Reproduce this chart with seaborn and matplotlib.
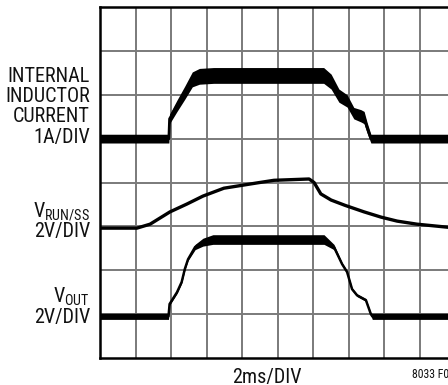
import numpy as np
import pandas as pd
import matplotlib
matplotlib.use("Agg")
import matplotlib.pyplot as plt
import seaborn as sns

# traces, in scope divisions (x: 0-10 time div, y: 0-8 vertical div)
cur_x = [0, 1.94, 1.96, 2.17, 2.39, 2.6, 2.8, 3.2, 6.3, 6.51, 6.73, 6.96, 7.15, 7.35, 7.44, 7.52, 7.63, 9.8]
cur_y = [5.0, 5.0, 5.45, 5.75, 6.05, 6.35, 6.42, 6.44, 6.44, 6.3, 5.98, 5.86, 5.58, 5.52, 5.48, 5.26, 5.0, 5.0]
cur_half = [0.1, 0.1, 0.11, 0.13, 0.15, 0.17, 0.18, 0.18, 0.18, 0.17, 0.15, 0.14, 0.13, 0.14, 0.14, 0.12, 0.1, 0.1]

run_x = [0, 1.04, 1.41, 1.97, 2.45, 2.9, 3.49, 4.42, 4.9, 5.89, 6.03, 6.22, 6.51, 6.9, 7.44, 7.92, 8.37, 8.93, 9.8]
run_y = [2.96, 2.96, 3.05, 3.33, 3.51, 3.69, 3.87, 3.99, 4.05, 4.08, 4.0, 3.74, 3.6, 3.48, 3.33, 3.21, 3.12, 3.05, 2.98]

out_x = [0, 1.93, 1.96, 2.17, 2.3, 2.39, 2.48, 2.68, 2.9, 3.18, 6.31, 6.59, 6.82, 6.96, 7.1, 7.24, 7.49, 7.63, 7.67, 9.8]
out_y = [0.95, 0.95, 1.23, 1.5, 1.73, 2.03, 2.25, 2.53, 2.64, 2.7, 2.7, 2.53, 2.14, 1.96, 1.57, 1.43, 1.32, 1.0, 0.95, 0.95]
out_half = [0.07, 0.07, 0.03, 0.03, 0.03, 0.03, 0.03, 0.06, 0.09, 0.11, 0.11, 0.06, 0.03, 0.03, 0.03, 0.03, 0.03, 0.03, 0.07, 0.07]

labels = [
    (["INTERNAL", "INDUCTOR", "CURRENT", "1A/DIV"], [77, 97, 117, 138]),
    ([r"V$_{\mathregular{RUN/SS}}$", "2V/DIV"], [212, 231]),
    ([r"V$_{\mathregular{OUT}}$", "2V/DIV"], [297, 317]),
]
xlabel = "2ms/DIV"
fig_id = "8033 F05"

sns.set_style("white")
plt.rcParams["font.family"] = ["Roboto Condensed", "Archivo Narrow", "DejaVu Sans"]

W, H = 448, 385
fig = plt.figure(figsize=(W / 100, H / 100), dpi=100)
ax = fig.add_axes([100 / W, 27 / H, (W - 100) / W, 351 / H])

xmax = (W - 100) / 35.5
ax.set_xlim(0, xmax)
ax.set_ylim(0, 8)
ax.set_xticks(range(1, 10))
ax.set_yticks(range(1, 8))
ax.grid(True, color="#7a7a7a", lw=1.4)
ax.tick_params(length=0, labelbottom=False, labelleft=False)
ax.spines["right"].set_visible(False)
for s in ["top", "left", "bottom"]:
    ax.spines[s].set_color("black")
    ax.spines[s].set_linewidth(1.8)

cur = pd.DataFrame({"x": cur_x, "y": cur_y, "h": cur_half})
run = pd.DataFrame({"x": run_x, "y": run_y})
out = pd.DataFrame({"x": out_x, "y": out_y, "h": out_half})

ax.fill_between(cur.x, cur.y - cur.h, cur.y + cur.h, color="black", lw=0, zorder=3)
sns.lineplot(data=cur, x="x", y="y", ax=ax, color="black", lw=2, sort=False, zorder=3)
sns.lineplot(data=run, x="x", y="y", ax=ax, color="black", lw=2.4, sort=False, zorder=3)
ax.fill_between(out.x, out.y - out.h, out.y + out.h, color="black", lw=0, zorder=3)
sns.lineplot(data=out, x="x", y="y", ax=ax, color="black", lw=1.8, sort=False, zorder=3)
ax.set_xlabel("")
ax.set_ylabel("")

for lines, ys in labels:
    for t, yp in zip(lines, ys):
        fig.text(90 / W, 1 - yp / H, t, ha="right", va="center", fontsize=14.5, color="#111111")

fig.text(267 / W, 1 - 377 / H, xlabel, ha="center", va="center", fontsize=14.5, color="#111111")
fig.text(412 / W, 1 - 374 / H, fig_id, ha="left", va="center", fontsize=8.5, color="#111111")

fig.savefig("out.png", dpi=100)
